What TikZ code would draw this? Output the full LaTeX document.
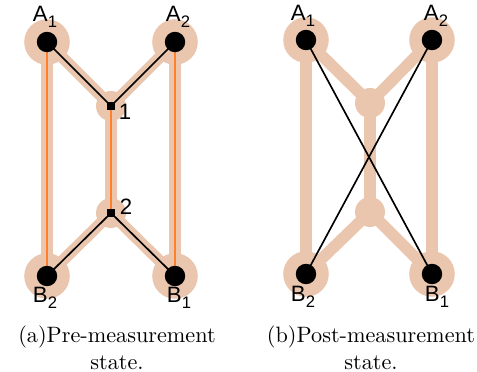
\documentclass[tikz,border=0pt]{standalone}
\usepackage{fontspec}
\newfontfamily\labfont{Liberation Sans}
\definecolor{peach}{HTML}{EAC6AE}
\definecolor{wire}{HTML}{FF7F2A}
\newcommand{\lab}[2]{{\labfont #1\raisebox{-0.45ex}{\fontsize{7.5}{8}\selectfont #2}}}
\begin{document}
\begin{tikzpicture}[x=0.45pt,y=-0.45pt]
    \tikzset{
        halo/.style={draw=peach,line width=5.2pt},
        bighalo/.style={circle,fill=peach,minimum size=20.5pt,inner sep=0pt},
        midhalo/.style={circle,fill=peach,minimum size=13.5pt,inner sep=0pt},
        dot/.style={circle,fill=black,minimum size=9.2pt,inner sep=0pt},
        sq/.style={fill=black,minimum size=4pt,inner sep=0pt},
        fiber/.style={draw=wire,line width=0.9pt},
        link/.style={draw=black,line width=0.75pt},
        lbl/.style={font=\fontsize{10}{12}\selectfont\labfont,inner sep=0pt},
        capt/.style={align=center,font=\fontsize{10}{12}\selectfont}
    }
    \useasboundingbox (0,0) rectangle (477,372);

    % (a) pre-measurement
    \coordinate (a1) at (47,42);
    \coordinate (a2) at (175,42);
    \coordinate (m1) at (111,106);
    \coordinate (m2) at (111,213);
    \coordinate (b2) at (47,276);
    \coordinate (b1) at (175,276);

    \foreach \p/\q in {a1/b2,a2/b1,m1/m2,a1/m1,a2/m1,m2/b2,m2/b1}
        \draw[halo] (\p) -- (\q);
    \foreach \n in {a1,a2,b1,b2}
        \node[bighalo] at (\n) {};
    \foreach \n in {m1,m2}
        \node[midhalo] at (\n) {};
    \foreach \p/\q in {a1/b2,a2/b1,m1/m2}
        \draw[fiber] (\p) -- (\q);
    \foreach \p/\q in {a1/m1,a2/m1,m2/b2,m2/b1}
        \draw[link] (\p) -- (\q);
    \foreach \n in {a1,a2,b1,b2}
        \node[dot] at (\n) {};
    \foreach \n in {m1,m2}
        \node[sq] at (\n) {};

    \node[lbl] (la1) at (45,17) {\lab{A}{1}};
    \node[lbl] (la2) at (178,17) {\lab{A}{2}};
    \node[lbl] (lb2) at (45,298) {\lab{B}{2}};
    \node[lbl] (lb1) at (179,298) {\lab{B}{1}};
    \node[lbl] (lm1) at (125,112) {1};
    \node[lbl] (lm2) at (126,207) {2};

    \node[capt] (capa) at (117,348) {(a)Pre-measurement\\state.};

    % (b) post-measurement
    \coordinate (c1) at (306,40);
    \coordinate (c2) at (432,40);
    \coordinate (n1) at (370,103);
    \coordinate (n2) at (370,212);
    \coordinate (d2) at (306,274);
    \coordinate (d1) at (432,274);

    \foreach \p/\q in {c1/d2,c2/d1,n1/n2,c1/n1,c2/n1,n2/d2,n2/d1}
        \draw[halo] (\p) -- (\q);
    \foreach \n in {c1,c2,d1,d2}
        \node[bighalo] at (\n) {};
    \foreach \n in {n1,n2}
        \node[midhalo] at (\n) {};
    \draw[link] (c1) -- (d1);
    \draw[link] (c2) -- (d2);
    \foreach \n in {c1,c2,d1,d2}
        \node[dot] at (\n) {};

    \node[lbl] (lc1) at (303,16) {\lab{A}{1}};
    \node[lbl] (lc2) at (436,16) {\lab{A}{2}};
    \node[lbl] (ld2) at (303,297) {\lab{B}{2}};
    \node[lbl] (ld1) at (437,297) {\lab{B}{1}};

    \node[capt] (capb) at (371,348) {(b)Post-measurement\\state.};
\end{tikzpicture}
\end{document}
